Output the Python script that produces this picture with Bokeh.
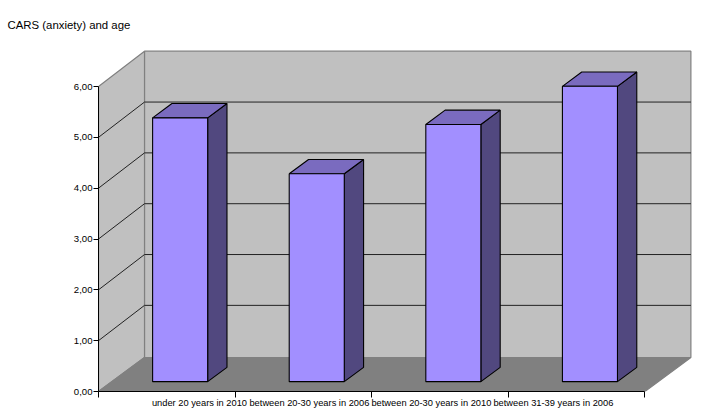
from bokeh.plotting import figure
from bokeh.models import FixedTicker, Range1d
from bokeh.embed import file_html
from bokeh.resources import INLINE

title_text = "CARS (anxiety) and age"
categories = ["under 20 years in 2010", "between 20-30 years in 2006",
              "between 20-30 years in 2010", "between 31-39 years in 2006"]
values = [5.19, 4.09, 5.06, 5.81]
y_ticks = [0, 1, 2, 3, 4, 5, 6]
y_labels = ["0,00", "1,00", "2,00", "3,00", "4,00", "5,00", "6,00"]

# layout
FONT = "Liberation Sans"
X_PX, Y_PX = 136.6, 50.83
DX, DY = 46 / X_PX, 34 / Y_PX      # chart depth in data units
WALL_DY = 35.3 / Y_PX              # rise of the back wall's grid
Z0, Z1 = 0.29, 0.71                # bar depth span
BAR_W = 0.403
YMAX = 6
N = len(categories)
label_pos = [0.739, 1.544, 2.437, 3.33]
WALL, FLOOR, EDGE = "#C0C0C0", "#808080", "#808080"
FRONT, TOP, SIDE = "#A28FFF", "#7A6BBF", "#51487F"

W, H = 701, 418
L, R, T, B = 98, 3, 45, 27
p = figure(width=W, height=H, output_backend="svg", toolbar_location=None,
           x_range=Range1d(0, (W - L - R) / X_PX), y_range=Range1d(0, (H - T - B) / Y_PX),
           min_border_left=L, min_border_right=R, min_border_top=T, min_border_bottom=B,
           outline_line_color=None, background_fill_color="white", title=title_text)
p.grid.visible = False
p.title.text_font = FONT
p.title.text_font_size = "11.4px"
p.title.text_font_style = "normal"
p.title.text_color = "black"
p.title.offset = -91
p.title.standoff = 29

# walls and floor
p.patch([DX, DX + N, DX + N, DX], [DY, DY, YMAX + WALL_DY, YMAX + WALL_DY], fill_color=WALL, line_color=EDGE, line_width=1.2)
p.patch([0, DX, DX, 0], [0, DY, YMAX + WALL_DY, YMAX], fill_color=WALL, line_color=EDGE, line_width=1.2)
p.patch([0, N, N + DX, DX], [0, 0, DY, DY], fill_color=FLOOR, line_color=EDGE, line_width=1.2)

# gridlines
for v in y_ticks[1:-1]:
    p.line([0, DX, DX + N], [v, v + WALL_DY, v + WALL_DY], line_color="#222222", line_width=1)

# bars
fx, fy, tx, ty, sx, sy = [], [], [], [], [], []
for i, v in enumerate(values):
    x0 = i + (1 - BAR_W) / 2 + Z0 * DX
    x1 = x0 + BAR_W
    y0 = Z0 * DY
    y1 = v + Z0 * DY
    ddx, ddy = (Z1 - Z0) * DX, (Z1 - Z0) * DY
    fx.append([x0, x1, x1, x0]); fy.append([y0, y0, y1, y1])
    tx.append([x0, x1, x1 + ddx, x0 + ddx]); ty.append([y1, y1, y1 + ddy, y1 + ddy])
    sx.append([x1, x1 + ddx, x1 + ddx, x1]); sy.append([y0, y0 + ddy, y1 + ddy, y1])
for xs, ys, c in ((sx, sy, SIDE), (tx, ty, TOP), (fx, fy, FRONT)):
    p.patches(xs, ys, fill_color=c, line_color="black", line_width=1.1)

# axes
ya = p.yaxis[0]
ya.bounds = (0, YMAX)
ya.ticker = FixedTicker(ticks=y_ticks)
ya.major_label_overrides = dict(zip(y_ticks, y_labels))
ya.major_label_text_font = FONT
ya.major_label_text_font_size = "9.6px"
ya.major_label_text_color = "black"
ya.major_tick_out = 5
ya.major_tick_in = 0
ya.minor_tick_line_color = None
ya.axis_line_color = "black"
ya.major_tick_line_color = "black"
ya.major_label_standoff = 1

xa = p.xaxis[0]
xa.bounds = (0, N)
xa.ticker = FixedTicker(ticks=label_pos, minor_ticks=list(range(N + 1)))
xa.major_label_overrides = dict(zip(label_pos, categories))
xa.major_label_text_font = FONT
xa.major_label_text_font_size = "9.3px"
xa.major_label_text_color = "black"
xa.major_tick_out = 0
xa.major_tick_in = 0
xa.minor_tick_out = 6
xa.minor_tick_in = 0
xa.minor_tick_line_color = "black"
xa.axis_line_color = "black"
xa.major_label_standoff = 0

open("out.html", "w").write(file_html(p, INLINE))
